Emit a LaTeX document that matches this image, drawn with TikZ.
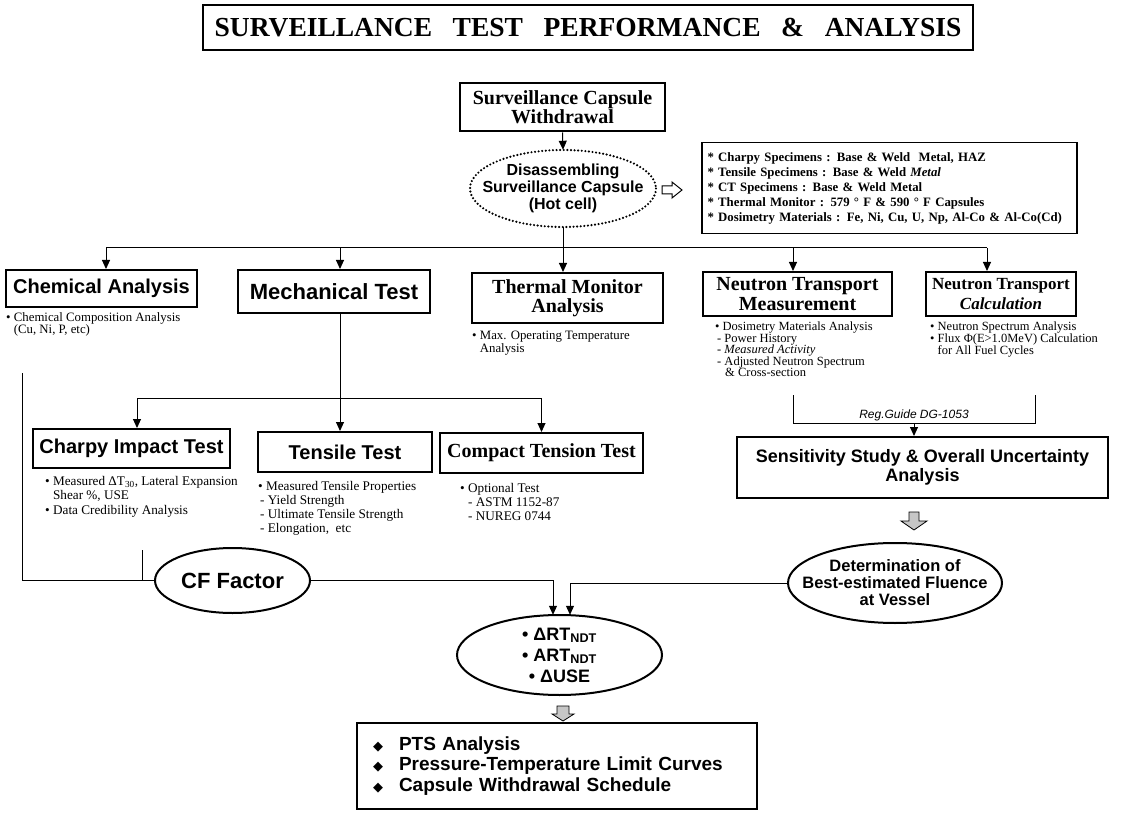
\documentclass[tikz,border=0pt]{standalone}
\usepackage{fontspec}
\setmainfont{Liberation Serif}
\setsansfont{Liberation Sans}
\newfontfamily\symfont{DejaVu Sans}
\usetikzlibrary{arrows.meta,calc}
\begin{document}
\begin{tikzpicture}[x=1pt,y=-1pt,
  bx/.style={draw,line width=2pt,inner sep=0pt,align=center},
  elnode/.style={inner sep=0pt,align=center},
  elline/.style={line width=2pt},
  ln/.style={line width=1pt},
  arr/.style={line width=1pt,-{Triangle[length=9pt,width=8pt]}},
  body/.style={inner sep=0pt,anchor=north west,align=left},
  sfb/.style={font=\sffamily\bfseries\fontsize{#1}{#1}\selectfont},
  rmb/.style={font=\bfseries\fontsize{#1}{#1}\selectfont},
  blockarrow/.style={fill=gray!45,line width=0.8pt}
]
\path[use as bounding box] (0,0) rectangle (1135,818);

% title
\node[bx,line width=2.5pt,minimum width=770,minimum height=45,rmb=27.5] (title) at (588,27.5)
  {SURVEILLANCE\hspace{0.5em} TEST\hspace{0.5em} PERFORMANCE\hspace{0.5em} \&\hspace{0.5em} ANALYSIS};

% top
\node[bx,minimum width=205,minimum height=48,rmb=20] (wd) at (562.5,107.5) {Surveillance Capsule\\[-1pt]Withdrawal};
\node[elnode,minimum width=186,minimum height=77,font=\sffamily\bfseries\fontsize{16}{17}\selectfont] (dis) at (563,188.5)
  {Disassembling\\Surveillance Capsule\\(Hot cell)};
\draw[line width=2.4pt,dash pattern=on 0pt off 3.6pt,line cap=round] (dis.center) ellipse [x radius=93,y radius=38.5];

\node[draw,line width=1.5pt,minimum width=375,minimum height=91,inner sep=0pt,text width=364,align=left,
  font=\bfseries\fontsize{12.8}{15}\selectfont] (info) at (889.5,188)
  {{*} Charpy Specimens : Base \& Weld\ \ Metal, HAZ\\
   {*} Tensile Specimens : Base \& Weld \textit{Metal}\\
   {*} CT Specimens : Base \& Weld Metal\\
   {*} Thermal Monitor : 579 ° F \& 590 ° F Capsules\\
   {*} Dosimetry Materials : Fe, Ni, Cu, U, Np, Al-Co \& Al-Co(Cd)};
\draw[line width=1pt] (662,186) -- (672,186) -- (672,182) -- (682,190) -- (672,198) -- (672,194) -- (662,194) -- cycle;

% first row boxes
\node[bx,minimum width=191,minimum height=37,sfb=20] (chem) at (101.5,288.5) {Chemical Analysis};
\node[bx,minimum width=192,minimum height=43,sfb=22] (mech) at (334,291.5) {Mechanical Test};
\node[bx,minimum width=191,minimum height=50,font=\bfseries\fontsize{20}{19}\selectfont] (therm) at (567.5,298) {Thermal Monitor\\Analysis};
\node[bx,minimum width=189,minimum height=44,font=\bfseries\fontsize{20}{20}\selectfont] (ntm) at (797.5,294) {Neutron Transport\\Measurement};
\node[bx,minimum width=150,minimum height=44,font=\bfseries\fontsize{17}{19.5}\selectfont] (ntc) at (1001,294) {Neutron Transport\\\textit{Calculation}};

\coordinate (bus) at (0,248);
\draw[ln] (dis.south) -- (dis.south |- bus);
\draw[ln] ([xshift=4.5pt]chem.north |- bus) -- ([xshift=-14pt]ntc.north |- bus);
\draw[arr] ([xshift=4.5pt]chem.north |- bus) -- ([xshift=4.5pt]chem.north);
\draw[arr] ([xshift=6pt]mech.north |- bus) -- ([xshift=6pt]mech.north);
\draw[arr] ([xshift=-4.5pt]therm.north |- bus) -- ([xshift=-4.5pt]therm.north);
\draw[arr] ([xshift=-4.5pt]ntm.north |- bus) -- ([xshift=-4.5pt]ntm.north);
\draw[arr] ([xshift=-14pt]ntc.north |- bus) -- ([xshift=-14pt]ntc.north);
\draw[arr] (wd.south) -- (dis.north);

% body texts first row
\node[body,font=\fontsize{12.8}{12}\selectfont] (chemtxt) at (6,312) {• Chemical Composition Analysis\\\phantom{• }(Cu, Ni, P, etc)};
\node[body,font=\fontsize{12.8}{12.5}\selectfont] (thermtxt) at (472,331) {• Max. Operating Temperature\\\phantom{• }Analysis};
\node[body,font=\fontsize{12.5}{11.5}\selectfont] (ntmtxt) at (715,322)
  {• Dosimetry Materials Analysis\\\hspace{2pt}- Power History\\\hspace{2pt}- \textit{Measured Activity}\\\hspace{2pt}- Adjusted Neutron Spectrum\\\hspace{10pt}\& Cross-section};
\node[body,font=\fontsize{12.5}{12}\selectfont] (ntctxt) at (930,322)
  {• Neutron Spectrum Analysis\\• Flux Φ(E>1.0MeV) Calculation\\\phantom{• }for All Fuel Cycles};

% second row
\node[bx,minimum width=197,minimum height=39,sfb=20] (charpy) at (131.5,448.5) {Charpy Impact Test};
\node[bx,minimum width=174,minimum height=40,sfb=20] (tensile) at (345,452) {Tensile Test};
\node[bx,minimum width=203,minimum height=40,rmb=20] (compact) at (541.5,453) {Compact Tension Test};

\coordinate (mbus) at (0,398);
\draw[ln] ([xshift=6pt]mech.south) -- ([xshift=6pt]mech.south |- mbus);
\draw[ln] ([xshift=5.5pt]charpy.north |- mbus) -- (compact.north |- mbus);
\draw[arr] ([xshift=5.5pt]charpy.north |- mbus) -- ([xshift=5.5pt]charpy.north);
\draw[arr] ([xshift=-5pt]tensile.north |- mbus) -- ([xshift=-5pt]tensile.north);
\draw[arr] (compact.north |- mbus) -- (compact.north);

\node[body,font=\fontsize{13.2}{14}\selectfont] (charpytxt) at (45,476)
  {• Measured ΔT\textsubscript{30}, Lateral Expansion\\\phantom{• }Shear \%, USE\\[1pt]• Data Credibility Analysis};
\node[body,font=\fontsize{13.2}{14}\selectfont] (tensiletxt) at (258,481)
  {• Measured Tensile Properties\\\hspace{2pt}- Yield Strength\\\hspace{2pt}- Ultimate Tensile Strength\\\hspace{2pt}- Elongation,\ \ etc};
\node[body,font=\fontsize{13.2}{14}\selectfont] (compacttxt) at (460,483)
  {• Optional Test\\\hspace{8pt}- ASTM 1152-87\\\hspace{8pt}- NUREG 0744};

% neutron side
\coordinate (bl) at (793,395);
\coordinate (br) at (1035,395);
\coordinate (bm) at (914,423);
\draw[ln] (bl) -- (bl |- bm) -- (br |- bm) -- (br);
\node[anchor=base,inner sep=0pt,font=\sffamily\itshape\fontsize{12}{12}\selectfont] (reg) at (914,418) {Reg.Guide DG-1053};
\node[bx,minimum width=371,minimum height=61,font=\sffamily\bfseries\fontsize{18}{19}\selectfont] (sens) at (922.5,467.5)
  {Sensitivity Study \& Overall Uncertainty\\Analysis};
\draw[arr] (bm) -- (bm |- sens.north);
\draw[blockarrow] (909,512) -- (919,512) -- (919,521) -- (927,521) -- (914,530) -- (901,521) -- (909,521) -- cycle;

\node[elnode,minimum width=214,minimum height=80,font=\sffamily\bfseries\fontsize{16.5}{17}\selectfont] (flu) at (895,583)
  {Determination of\\Best-estimated Fluence\\at Vessel};
\draw[elline] (flu.center) ellipse [x radius=107,y radius=40];

% CF factor
\node[elnode,minimum width=155,minimum height=65,sfb=22] (cf) at (232.5,580.5) {CF Factor};
\draw[elline] (cf.center) ellipse [x radius=77.5,y radius=32.5];
\coordinate (cl) at (22,373);
\coordinate (cs) at (142,550);
\draw[ln] (cl) -- (cl |- cf.west) -- (cf.west);
\draw[ln] (cs) -- (cs |- cf.west);

% central
\node[elnode,minimum width=205,minimum height=80,font=\sffamily\bfseries\fontsize{18}{21}\selectfont] (cen) at (559.5,655)
  {• ΔRT\textsubscript{NDT}\\• ART\textsubscript{NDT}\\• ΔUSE};
\draw[elline] (cen.center) ellipse [x radius=102.5,y radius=40];
\draw[arr] (cf.east) -| ([xshift=-6.5pt]cen.north);
\draw[arr] (flu.west) -| ([xshift=10.5pt]cen.north);
\draw[blockarrow] (557,706) -- (569,706) -- (569,714) -- (574,714) -- (563,721) -- (552,714) -- (557,714) -- cycle;

% bottom
\node[bx,minimum width=400,minimum height=86,text width=368,align=left,font=\sffamily\bfseries\fontsize{19}{20.5}\selectfont] (out) at (557,766)
  {{\symfont\fontsize{13}{13}\selectfont ◆}\hspace{16pt}PTS Analysis\\
   {\symfont\fontsize{13}{13}\selectfont ◆}\hspace{16pt}Pressure-Temperature Limit Curves\\
   {\symfont\fontsize{13}{13}\selectfont ◆}\hspace{16pt}Capsule Withdrawal Schedule};
\end{tikzpicture}
\end{document}
